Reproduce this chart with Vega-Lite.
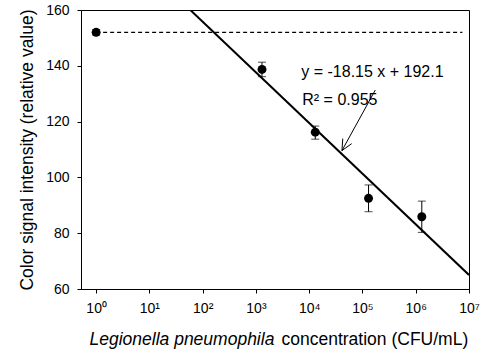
{
  "$schema": "https://vega.github.io/schema/vega-lite/v6.json",
  "width": 388,
  "height": 279,
  "autosize": {"type": "none"},
  "padding": {"left": 81, "top": 10, "right": 17, "bottom": 61},
  "background": "white",
  "config": {
    "view": {"stroke": "black", "strokeWidth": 1},
    "font": "Liberation Sans",
    "axis": {
      "grid": false,
      "domainColor": "black",
      "tickColor": "black",
      "tickSize": 4,
      "labelColor": "black",
      "titleColor": "black",
      "labelFont": "Liberation Sans",
      "titleFont": "Liberation Sans",
      "titleFontWeight": "normal"
    }
  },
  "resolve": {"axis": {"x": "independent", "y": "independent"}},
  "layer": [
    {
      "data": {"values": [
        {"conc": 1, "signal": 152},
        {"conc": 7500000, "signal": 152}
      ]},
      "mark": {"type": "line", "color": "black", "strokeWidth": 1.3, "strokeDash": [4, 3]},
      "encoding": {
        "x": {"field": "conc", "type": "quantitative", "scale": {"type": "log", "domain": [0.52, 10000000], "nice": false}, "axis": null},
        "y": {"field": "signal", "type": "quantitative", "scale": {"domain": [60, 160], "nice": false}, "axis": {
          "orient": "left",
          "values": [60, 80, 100, 120, 140, 160],
          "labelFontSize": 14, "labelPadding": 8,
          "title": "Color signal intensity (relative value)", "titleFontSize": 17.5,
          "titleAngle": -90, "titleAlign": "center", "titleBaseline": "alphabetic",
          "titleX": -49, "titleY": 139.5
        }}
      }
    },
    {
      "data": {"values": [
        {"conc": 58.7, "signal": 160},
        {"conc": 10000000, "signal": 65.05}
      ]},
      "mark": {"type": "line", "color": "black", "strokeWidth": 2, "clip": true},
      "encoding": {
        "x": {"field": "conc", "type": "quantitative", "axis": {
          "orient": "bottom", "labels": false, "ticks": false, "domain": false,
          "title": "concentration (CFU/mL)", "titleFontSize": 17.5,
          "titleAlign": "left", "titleBaseline": "alphabetic", "titleAnchor": "start",
          "titleX": 200, "titleY": 55
        }},
        "y": {"field": "signal", "type": "quantitative", "axis": null}
      }
    },
    {
      "data": {"values": [
        {"conc": 1, "lo": 151, "hi": 153},
        {"conc": 1300, "lo": 136.1, "hi": 141.3},
        {"conc": 13000, "lo": 113.7, "hi": 118.4},
        {"conc": 130000, "lo": 87.7, "hi": 97.3},
        {"conc": 1300000, "lo": 80.3, "hi": 91.5}
      ]},
      "layer": [
        {
          "mark": {"type": "rule", "color": "black", "strokeWidth": 1},
          "encoding": {
            "x": {"field": "conc", "type": "quantitative", "axis": null},
            "y": {"field": "lo", "type": "quantitative", "axis": null},
            "y2": {"field": "hi"}
          }
        },
        {
          "mark": {"type": "tick", "orient": "horizontal", "color": "black", "size": 8, "thickness": 1},
          "encoding": {
            "x": {"field": "conc", "type": "quantitative", "axis": null},
            "y": {"field": "lo", "type": "quantitative", "axis": null}
          }
        },
        {
          "mark": {"type": "tick", "orient": "horizontal", "color": "black", "size": 8, "thickness": 1},
          "encoding": {
            "x": {"field": "conc", "type": "quantitative", "axis": null},
            "y": {"field": "hi", "type": "quantitative", "axis": null}
          }
        }
      ]
    },
    {
      "data": {"values": [
        {"conc": 1, "signal": 152},
        {"conc": 1300, "signal": 138.7},
        {"conc": 13000, "signal": 116.2},
        {"conc": 130000, "signal": 92.5},
        {"conc": 1300000, "signal": 85.9}
      ]},
      "mark": {"type": "point", "shape": "circle", "filled": true, "color": "black", "opacity": 1, "size": 80},
      "encoding": {
        "x": {"field": "conc", "type": "quantitative", "axis": {
          "orient": "bottom",
          "values": [1, 10, 100, 1000, 10000, 100000, 1000000, 10000000],
          "labelExpr": "'10' + ['⁰','¹','²','³','⁴','⁵','⁶','⁷'][round(log(datum.value)/LN10)]",
          "labelFontSize": 14, "labelPadding": 8, "labelFlush": false,
          "title": "Legionella pneumophila", "titleFontStyle": "italic", "titleFontSize": 17.5,
          "titleAlign": "left", "titleBaseline": "alphabetic", "titleAnchor": "start",
          "titleX": 8, "titleY": 55
        }},
        "y": {"field": "signal", "type": "quantitative", "axis": null}
      }
    },
    {
      "data": {"values": [
        {"x1": 174000, "y1": 131.3, "x2": 41200, "y2": 109.6},
        {"x1": 41200, "y1": 109.6, "x2": 62700, "y2": 112.1},
        {"x1": 41200, "y1": 109.6, "x2": 42700, "y2": 113.9}
      ]},
      "mark": {"type": "rule", "color": "black", "strokeWidth": 1},
      "encoding": {
        "x": {"field": "x1", "type": "quantitative", "axis": null},
        "y": {"field": "y1", "type": "quantitative", "axis": null},
        "x2": {"field": "x2"},
        "y2": {"field": "y2"}
      }
    },
    {
      "data": {"values": [
        {"conc": 7100, "signal": 137.8, "label": "y = -18.15 x + 192.1"},
        {"conc": 7420, "signal": 127.7, "label": "R² = 0.955"}
      ]},
      "mark": {"type": "text", "align": "left", "baseline": "middle", "fontSize": 16, "color": "black", "font": "Liberation Sans"},
      "encoding": {
        "x": {"field": "conc", "type": "quantitative", "axis": null},
        "y": {"field": "signal", "type": "quantitative", "axis": null},
        "text": {"field": "label"}
      }
    }
  ]
}
